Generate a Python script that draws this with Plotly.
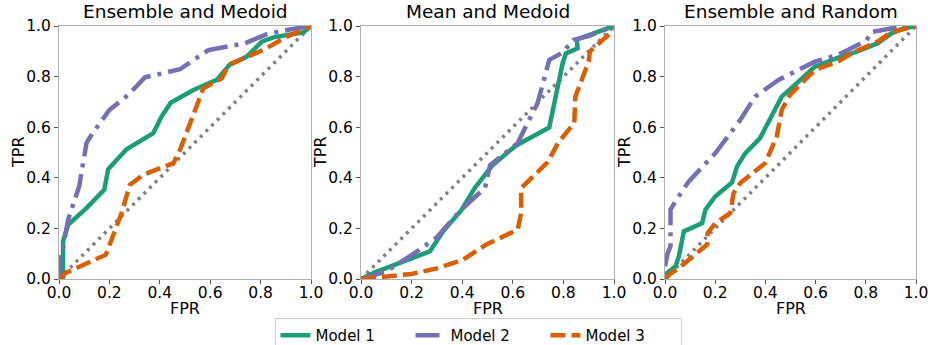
import plotly.graph_objects as go

W, H = 928, 345
titles = ["Ensemble and Medoid", "Mean and Medoid", "Ensemble and Random"]
model_names = ["Model 1", "Model 2", "Model 3"]
colors = ["#1b9e77", "#7570b3", "#d95f02"]
dashes = ["solid", "24px,7px,4px,7px", "15px,6px"]

# Panel 1: Ensemble and Medoid
p1_m1_x = [0, 0.016, 0.016, 0.036, 0.109, 0.18, 0.195, 0.268, 0.374, 0.407, 0.443, 0.533, 0.626, 0.676, 0.745, 0.805, 0.851, 0.944, 0.97, 1.0]
p1_m1_y = [0, 0.0, 0.149, 0.214, 0.28, 0.353, 0.434, 0.513, 0.576, 0.642, 0.697, 0.747, 0.787, 0.846, 0.879, 0.938, 0.955, 0.971, 0.975, 1.0]
p1_m2_x = [0, 0, 0.016, 0.036, 0.08, 0.109, 0.133, 0.2, 0.275, 0.341, 0.48, 0.593, 0.739, 0.825, 0.905, 1.0]
p1_m2_y = [0, 0.083, 0.122, 0.234, 0.366, 0.537, 0.576, 0.668, 0.728, 0.797, 0.829, 0.905, 0.932, 0.968, 0.984, 1.0]
p1_m3_x = [0, 0.027, 0.186, 0.248, 0.281, 0.334, 0.454, 0.48, 0.573, 0.646, 0.672, 0.745, 0.81, 0.905, 1.0]
p1_m3_y = [0, 0.024, 0.096, 0.26, 0.372, 0.412, 0.458, 0.51, 0.754, 0.793, 0.846, 0.879, 0.905, 0.958, 1.0]

# Panel 2: Mean and Medoid
p2_m1_x = [0, 0.055, 0.272, 0.324, 0.396, 0.449, 0.521, 0.613, 0.744, 0.797, 0.81, 0.856, 0.853, 0.921, 1.0]
p2_m1_y = [0, 0.026, 0.109, 0.188, 0.271, 0.359, 0.451, 0.528, 0.599, 0.853, 0.892, 0.912, 0.947, 0.971, 1.0]
p2_m2_x = [0, 0.1, 0.213, 0.3, 0.396, 0.46, 0.49, 0.51, 0.619, 0.65, 0.698, 0.744, 0.797, 0.839, 0.9, 0.95, 1.0]
p2_m2_y = [0, 0.03, 0.103, 0.165, 0.274, 0.33, 0.36, 0.45, 0.537, 0.6, 0.695, 0.866, 0.895, 0.945, 0.96, 0.98, 1.0]
p2_m3_x = [0, 0.1, 0.2, 0.3, 0.403, 0.495, 0.619, 0.633, 0.633, 0.738, 0.78, 0.843, 0.847, 0.9, 0.905, 1.0]
p2_m3_y = [0, 0.01, 0.02, 0.042, 0.076, 0.136, 0.195, 0.26, 0.359, 0.462, 0.54, 0.616, 0.72, 0.86, 0.9, 0.984]

# Panel 3: Ensemble and Random
p3_m1_x = [0, 0.042, 0.055, 0.075, 0.148, 0.161, 0.2, 0.267, 0.287, 0.32, 0.379, 0.432, 0.465, 0.511, 0.597, 0.69, 0.756, 0.848, 0.9, 0.95, 1.0]
p3_m1_y = [0.017, 0.05, 0.089, 0.188, 0.221, 0.274, 0.326, 0.382, 0.445, 0.497, 0.557, 0.655, 0.721, 0.761, 0.839, 0.875, 0.896, 0.932, 0.97, 0.99, 1.0]
p3_m2_x = [0, 0.01, 0.022, 0.022, 0.05, 0.095, 0.2, 0.3, 0.359, 0.452, 0.597, 0.69, 0.802, 0.822, 0.9, 1.0]
p3_m2_y = [0.05, 0.1, 0.13, 0.274, 0.32, 0.386, 0.497, 0.629, 0.721, 0.787, 0.859, 0.886, 0.942, 0.976, 0.99, 1.0]
p3_m3_x = [0, 0.02, 0.055, 0.14, 0.168, 0.17, 0.2, 0.26, 0.273, 0.3, 0.399, 0.445, 0.465, 0.498, 0.597, 0.69, 0.749, 0.85, 0.9, 1.0]
p3_m3_y = [0, 0.02, 0.043, 0.11, 0.136, 0.182, 0.22, 0.26, 0.339, 0.379, 0.458, 0.563, 0.668, 0.728, 0.826, 0.86, 0.895, 0.94, 0.975, 1.0]

panels = [
    [(p1_m1_x, p1_m1_y), (p1_m2_x, p1_m2_y), (p1_m3_x, p1_m3_y)],
    [(p2_m1_x, p2_m1_y), (p2_m2_x, p2_m2_y), (p2_m3_x, p2_m3_y)],
    [(p3_m1_x, p3_m1_y), (p3_m2_x, p3_m2_y), (p3_m3_x, p3_m3_y)],
]
diag = [0, 1]
ticks = [0.0, 0.2, 0.4, 0.6, 0.8, 1.0]
tick_text = ["0.0", "0.2", "0.4", "0.6", "0.8", "1.0"]
x_label = "FPR"
y_label = "TPR"

px_x = [(59, 311), (361, 614), (665, 916)]
px_y = (26, 279)

FONT = "DejaVu Sans"
fig = go.Figure()
layout = dict(
    width=W, height=H, margin=dict(l=0, r=0, t=0, b=0, autoexpand=False),
    paper_bgcolor="white", plot_bgcolor="white",
    font=dict(family=FONT, size=16, color="#000000"),
    showlegend=True,
    legend=dict(orientation="h", x=478 / W, xanchor="center", y=(H - 318) / H, yanchor="top",
                bordercolor="#d0d0d0", borderwidth=1, bgcolor="white",
                font=dict(family=FONT, size=15), entrywidth=90,
                tracegroupgap=0),
)
annotations = []
for i, series in enumerate(panels):
    xa = "x" if i == 0 else f"x{i+1}"
    ya = "y" if i == 0 else f"y{i+1}"
    fig.add_trace(go.Scatter(x=diag, y=diag, mode="lines", xaxis=xa, yaxis=ya,
                             line=dict(color="#808080", width=3.5, dash="3px,5px"),
                             showlegend=False, hoverinfo="skip"))
    for j, (xs, ys) in enumerate(series):
        fig.add_trace(go.Scatter(x=xs, y=ys, mode="lines", xaxis=xa, yaxis=ya,
                                 name=model_names[j],
                                 line=dict(color=colors[j], width=4.5, dash=dashes[j]),
                                 showlegend=(i == 0)))
    x0, x1 = px_x[i]
    axis_common = dict(range=[0, 1], tickvals=ticks, ticktext=tick_text, showgrid=False,
                       zeroline=False, showline=True, linecolor="#b0b0b0", linewidth=1,
                       mirror=True, ticks="outside", ticklen=4, tickcolor="#555555",
                       ticklabeloverflow="allow",
                       tickfont=dict(family=FONT, size=15.5, color="#000000"))
    key = "" if i == 0 else str(i + 1)
    layout["xaxis" + key] = dict(domain=[x0 / W, x1 / W], anchor=ya, ticklabelstandoff=-5,
                                 **axis_common)
    layout["yaxis" + key] = dict(domain=[(H - px_y[1]) / H, (H - px_y[0]) / H], anchor=xa,
                                 **axis_common)
    annotations.append(dict(text=titles[i], x=(x0 + x1) / 2 / W, y=(H - 24) / H,
                            xref="paper", yref="paper", xanchor="center", yanchor="bottom",
                            showarrow=False, font=dict(family=FONT, size=18.5, color="#000000")))
    annotations.append(dict(text=x_label, x=(x0 + x1) / 2 / W, y=(H - 308) / H,
                            xref="paper", yref="paper", xanchor="center", yanchor="middle",
                            showarrow=False, font=dict(family=FONT, size=16, color="#000000")))
    annotations.append(dict(text=y_label, x=(x0 - 41) / W, y=(H - 152) / H, textangle=-90,
                            xref="paper", yref="paper", xanchor="center", yanchor="middle",
                            showarrow=False, font=dict(family=FONT, size=16, color="#000000")))
layout["annotations"] = annotations
fig.update_layout(**layout)
fig.write_html("out.html")
